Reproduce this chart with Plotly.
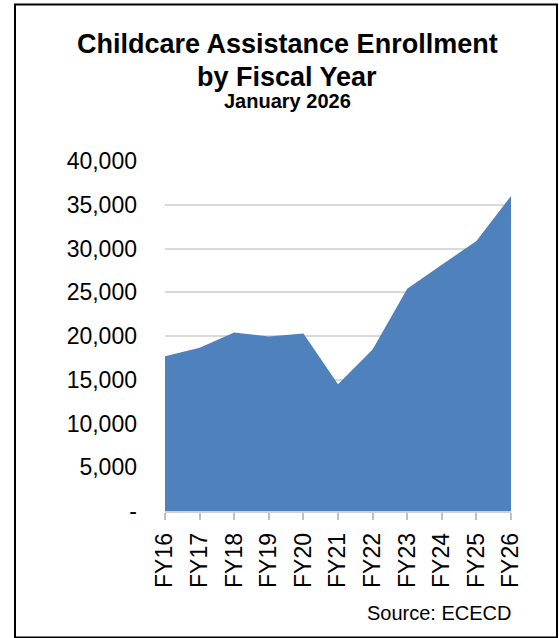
import plotly.graph_objects as go

# Enrollment by fiscal year
fiscal_years = ["FY16", "FY17", "FY18", "FY19", "FY20", "FY21",
                "FY22", "FY23", "FY24", "FY25", "FY26"]
enrollment = [17700, 18650, 20400, 19950, 20300, 14500,
              18450, 25400, 28150, 30850, 36000]

y_tick_values = [0, 5000, 10000, 15000, 20000, 25000, 30000, 35000, 40000]
y_tick_labels = ["-", "5,000", "10,000", "15,000", "20,000", "25,000",
                 "30,000", "35,000", "40,000"]

FONT = "Arial, Liberation Sans, sans-serif"
W, H = 559, 638
L, R, T, B = 165, 48, 161, 127
PW, PH = W - L - R, H - T - B


def px(x):
    return (x - L) / PW


def py(y):
    return (H - B - y) / PH


fig = go.Figure()
fig.add_trace(go.Scatter(
    x=fiscal_years, y=enrollment,
    mode="lines", fill="tozeroy",
    line=dict(color="#4f81bd", width=0),
    fillcolor="#4f81bd",
    hoverinfo="x+y",
))

fig.update_layout(
    width=W, height=H,
    margin=dict(l=L, r=R, t=T, b=B),
    paper_bgcolor="white", plot_bgcolor="white",
    showlegend=False,
    font=dict(family=FONT, color="black"),
    xaxis=dict(
        type="category", range=[0, 10],
        tickangle=-90, tickfont=dict(size=23, family=FONT),
        ticklabelstandoff=4,
        ticks="outside", ticklen=7, tickcolor="#bfbfbf", tickwidth=1.5,
        showline=True, linecolor="#d0d0d0", linewidth=1.5,
        showgrid=False, zeroline=False,
    ),
    yaxis=dict(
        range=[0, 40000],
        tickvals=y_tick_values, ticktext=y_tick_labels,
        tickfont=dict(size=23, family=FONT),
        ticklabelstandoff=27,
        showgrid=True, gridcolor="#d9d9d9", gridwidth=2,
        zeroline=False, showline=False, ticks="",
    ),
    annotations=[
        dict(text="<b>Childcare Assistance Enrollment</b>", x=px(287), y=py(44),
             xref="paper", yref="paper", xanchor="center", yanchor="middle",
             showarrow=False, font=dict(size=27, family=FONT, color="black")),
        dict(text="<b>by Fiscal Year</b>", x=px(287), y=py(77),
             xref="paper", yref="paper", xanchor="center", yanchor="middle",
             showarrow=False, font=dict(size=27, family=FONT, color="black")),
        dict(text="<b>January 2026</b>", x=px(287), y=py(101),
             xref="paper", yref="paper", xanchor="center", yanchor="middle",
             showarrow=False, font=dict(size=20, family=FONT, color="black")),
        dict(text="Source: ECECD", x=px(514), y=py(613),
             xref="paper", yref="paper", xanchor="right", yanchor="middle",
             showarrow=False, font=dict(size=20, family=FONT, color="black")),
    ],
    shapes=[
        dict(type="rect", xref="paper", yref="paper",
             x0=px(15), x1=px(557), y0=py(637.5), y1=py(4.5),
             line=dict(color="black", width=2), fillcolor="rgba(0,0,0,0)",
             layer="above"),
    ],
)

fig.write_html("out.html")
